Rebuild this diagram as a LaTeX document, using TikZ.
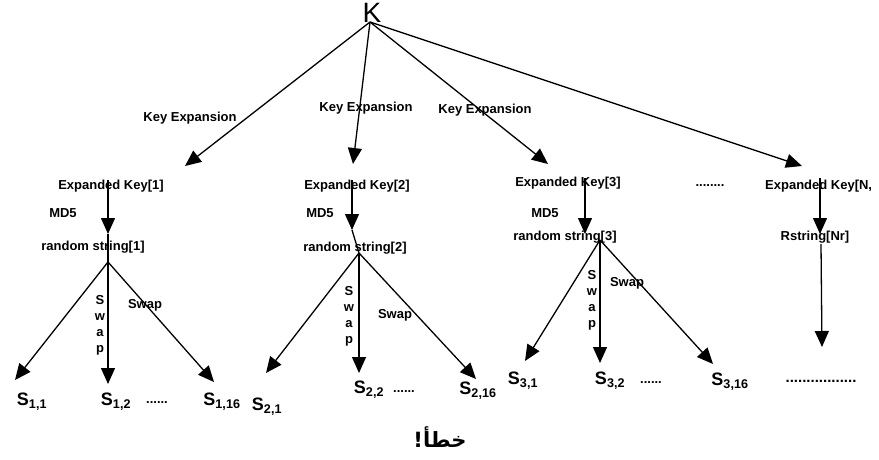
\documentclass[tikz,border=0pt]{standalone}
\usepackage{fontspec}
\setmainfont{Liberation Sans}
\newfontfamily\arabicfont[Script=Arabic]{DejaVu Sans}
\TeXXeTstate=1
\usetikzlibrary{arrows.meta}
\tikzset{
  lbl/.style={font=\bfseries\fontsize{13}{15}\selectfont, inner sep=0pt},
  slbl/.style={font=\bfseries\fontsize{18}{20}\selectfont, inner sep=0pt},
  vlbl/.style={font=\bfseries\fontsize{13}{16}\selectfont, inner sep=0pt, align=center},
  arr/.style={line width=1.3pt, -{Triangle[length=16pt,width=14pt]}},
  ln/.style={line width=1.3pt}
}
\begin{document}
\begin{tikzpicture}[x=1pt,y=-1pt]
\useasboundingbox (0,0) rectangle (879,459);
% root
\node[inner sep=0pt, font=\fontsize{28}{30}\selectfont] (K) at (372,13) {K};
\coordinate (k0) at (370,22);
% expansion arrow ends
\coordinate (a1) at (185,166);
\coordinate (a2) at (353,164);
\coordinate (a3) at (548,164);
\coordinate (a4) at (802,166);
\draw[arr] (k0) -- (a1);
\draw[arr] (k0) -- (a2);
\draw[arr] (k0) -- (a3);
\draw[arr] (k0) -- (a4);
\node[lbl] (ke1) at (190,118) {Key Expansion};
\node[lbl] (ke2) at (366,108) {Key Expansion};
\node[lbl] (ke3) at (485,110) {Key Expansion};
% expanded keys
\node[lbl] (ek1) at (111,186) {Expanded Key[1]};
\node[lbl] (ek2) at (357,186) {Expanded Key[2]};
\node[lbl] (ek3) at (568,183) {Expanded Key[3]};
\node[lbl] (ekd) at (710,186) {........};
\node[lbl, anchor=west] (ek4) at (765,186) {Expanded Key[N,};
% MD5
\node[lbl] (m1) at (63,213) {MD5};
\node[lbl] (m2) at (320,213) {MD5};
\node[lbl] (m3) at (545,213) {MD5};
\coordinate (t1) at (108,180); \coordinate (b1) at (108,234);
\coordinate (t2) at (352,180); \coordinate (b2) at (352,230);
\coordinate (t3) at (585,178); \coordinate (b3) at (585,234);
\coordinate (t4) at (820,178); \coordinate (b4) at (820,234);
\draw[arr] (t1) -- (b1);
\draw[arr] (t2) -- (b2);
\draw[arr] (t3) -- (b3);
\draw[arr] (t4) -- (b4);
% random strings
\node[lbl] (rs1) at (93,247) {random string[1]};
\node[lbl] (rs2) at (355,248) {random string[2]};
\node[lbl] (rs3) at (565,237) {random string[3]};
\node[lbl] (rs4) at (815,237) {Rstring[Nr]};
% apexes
\coordinate (p1) at (108,262);
\coordinate (p2) at (359,253);
\coordinate (p3) at (600,240);
\coordinate (p4) at (821,244);
\draw[ln] (b1) -- (p1);
\draw[ln] (b2) -- (p2);
% subtree 1
\coordinate (e11) at (15,380);
\coordinate (e12) at (108,384);
\coordinate (e13) at (214,382);
\draw[arr] (p1) -- (e11);
\draw[arr] (p1) -- (e12);
\draw[arr] (p1) -- (e13);
\node[vlbl] (v1) at (100,325) {S\\w\\a\\p};
\node[lbl] (sw1) at (145,305) {Swap};
\node[slbl] (s11) at (32,402) {S\textsubscript{1,1}};
\node[slbl] (s12) at (116,402) {S\textsubscript{1,2}};
\node[lbl] (d1) at (157,403) {......};
\node[slbl] (s116) at (222,402) {S\textsubscript{1,16}};
% subtree 2
\coordinate (e21) at (266,373);
\coordinate (e22) at (359,373);
\coordinate (e23) at (476,379);
\draw[arr] (p2) -- (e21);
\draw[arr] (p2) -- (e22);
\draw[arr] (p2) -- (e23);
\node[vlbl] (v2) at (349,316) {S\\w\\a\\p};
\node[lbl] (sw2) at (395,315) {Swap};
\node[slbl] (s21) at (267,407) {S\textsubscript{2,1}};
\node[slbl] (s22) at (369,390) {S\textsubscript{2,2}};
\node[lbl] (d2) at (404,392) {......};
\node[slbl] (s216) at (478,391) {S\textsubscript{2,16}};
% subtree 3
\coordinate (e31) at (525,361);
\coordinate (e32) at (600,363);
\coordinate (e33) at (713,364);
\draw[arr] (p3) -- (e31);
\draw[arr] (p3) -- (e32);
\draw[arr] (p3) -- (e33);
\node[vlbl] (v3) at (592,300) {S\\w\\a\\p};
\node[lbl] (sw3) at (627,283) {Swap};
\node[slbl] (s31) at (523,381) {S\textsubscript{3,1}};
\node[slbl] (s32) at (610,381) {S\textsubscript{3,2}};
\node[lbl] (d3) at (651,383) {......};
\node[slbl] (s316) at (730,382) {S\textsubscript{3,16}};
% tree 4
\coordinate (e41) at (822,347);
\draw[arr] (p4) -- (e41);
\node[lbl, font=\bfseries\fontsize{15}{17}\selectfont] (d4) at (821,381) {.................};
% caption
\node[inner sep=0pt, font=\arabicfont\bfseries\fontsize{21}{23}\selectfont] (cap) at (440,437) {\beginR خطأ!\endR};
\end{tikzpicture}
\end{document}
